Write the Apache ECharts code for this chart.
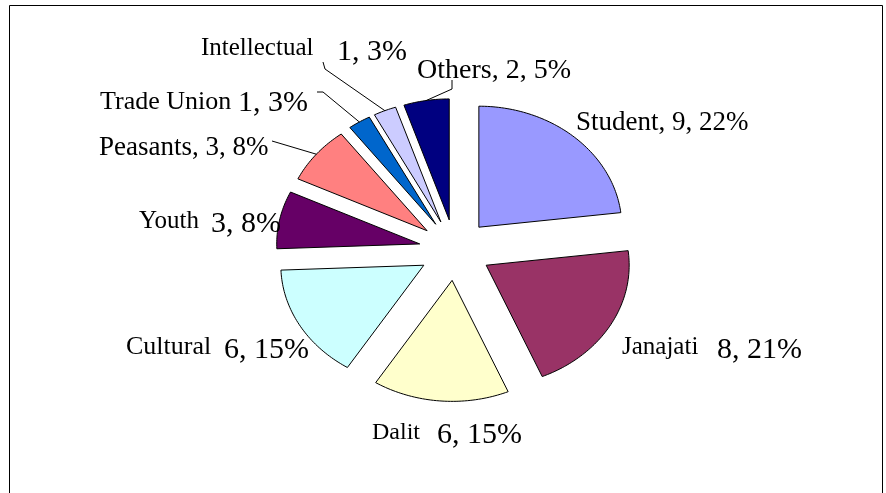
<!DOCTYPE html>
<html>
<head>
<meta charset="utf-8">
<script src="https://cdn.jsdelivr.net/npm/echarts@6/dist/echarts.min.js"></script>
<style>
  html, body { margin: 0; padding: 0; background: #fff; }
  #main { width: 886px; height: 493px; }
</style>
</head>
<body>
<div id="main"></div>
<script>
// data
var names = ['Student', 'Janajati', 'Dalit', 'Cultural', 'Youth', 'Peasants', 'Trade Union', 'Intellectual', 'Others'];
var counts = [9, 8, 6, 6, 3, 3, 1, 1, 2];
var percents = [22, 21, 15, 15, 8, 8, 3, 3, 5];

// styles
var colors = ['#9999FF', '#993366', '#FFFFCC', '#CCFFFF', '#660066', '#FF8080', '#0066CC', '#CCCCFF', '#000080'];
var FONT = 'Liberation Serif';

// label placement (baselines), hand placed like the original
// joined: "Name, n, p%" in one piece; otherwise name and numbers separately
var labelLayout = [
    {joined: true, x: 576, y: 132, size: 27},
    {x: 622, y: 356, size: 25, nx: 717, ny: 360, nsize: 30},
    {x: 372, y: 441, size: 24, nx: 437, ny: 445, nsize: 30},
    {x: 126, y: 356, size: 26, nx: 224, ny: 360, nsize: 30},
    {x: 139, y: 230, size: 25, nx: 211, ny: 234, nsize: 30},
    {joined: true, x: 99, y: 157, size: 27},
    {x: 100, y: 111, size: 26, nx: 238, ny: 113, nsize: 30},
    {x: 201, y: 57, size: 25, nx: 337, ny: 62, nsize: 30},
    {joined: true, x: 417, y: 80, size: 28}
];
// leader line start points (label side), the end goes to the slice's arc
var leaders = {
    5: [[272, 141]],
    6: [[317, 92], [323, 92]],
    7: [[323, 62], [325, 69]],
    8: [[452, 80], [452, 89]]
};

var total = counts.reduce(function (a, b) { return a + b; }, 0);
var cx = 455, cy = 250, rx = 143, ry = 121, explode = 36;

function textEl(str, x, baseline, size) {
    return {
        type: 'text',
        z2: 10,
        style: {
            text: str,
            x: x,
            y: baseline - 0.34 * size,
            fill: '#000',
            fontFamily: FONT,
            fontSize: size,
            align: 'left',
            verticalAlign: 'middle'
        }
    };
}

function renderItem(params, api) {
    var i = params.dataIndex;
    var start = 0;
    for (var j = 0; j < i; j++) start += counts[j];
    var a0 = start / total * 2 * Math.PI;
    var a1 = (start + api.value(1)) / total * 2 * Math.PI;
    var am = (a0 + a1) / 2;
    // exploded apex
    var ox = cx + explode * Math.sin(am);
    var oy = cy - explode * Math.cos(am) * ry / rx;
    var pts = [[ox, oy]];
    var n = Math.max(4, Math.ceil((a1 - a0) / 0.02));
    for (var k = 0; k <= n; k++) {
        var a = a0 + (a1 - a0) * k / n;
        pts.push([ox + rx * Math.sin(a), oy - ry * Math.cos(a)]);
    }
    var children = [{
        type: 'polygon',
        shape: {points: pts},
        style: {fill: colors[i], stroke: '#000', lineWidth: 1}
    }];

    if (leaders[i]) {
        var lp = leaders[i].slice();
        lp.push([ox + rx * Math.sin(am), oy - ry * Math.cos(am)]);
        children.push({
            type: 'polyline',
            shape: {points: lp},
            style: {stroke: '#000', lineWidth: 1, fill: null}
        });
    }

    var L = labelLayout[i];
    var nums = api.value(1) + ', ' + percents[i] + '%';
    if (L.joined) {
        children.push(textEl(names[i] + ', ' + nums, L.x, L.y, L.size));
    } else {
        children.push(textEl(names[i], L.x, L.y, L.size));
        children.push(textEl(nums, L.nx, L.ny, L.nsize));
    }
    return {type: 'group', children: children};
}

var chart = echarts.init(document.getElementById('main'), null, {renderer: 'canvas'});
var option = {
    backgroundColor: '#fff',
    animation: false,
    graphic: [{
        type: 'rect',
        shape: {x: 9.5, y: 5.5, width: 873, height: 520},
        style: {fill: null, stroke: '#000', lineWidth: 1},
        silent: true
    }],
    series: [{
        type: 'custom',
        coordinateSystem: 'none',
        renderItem: renderItem,
        silent: true,
        data: counts.map(function (v, i) { return [i, v]; })
    }]
};
chart.setOption(option);
</script>
</body>
</html>
